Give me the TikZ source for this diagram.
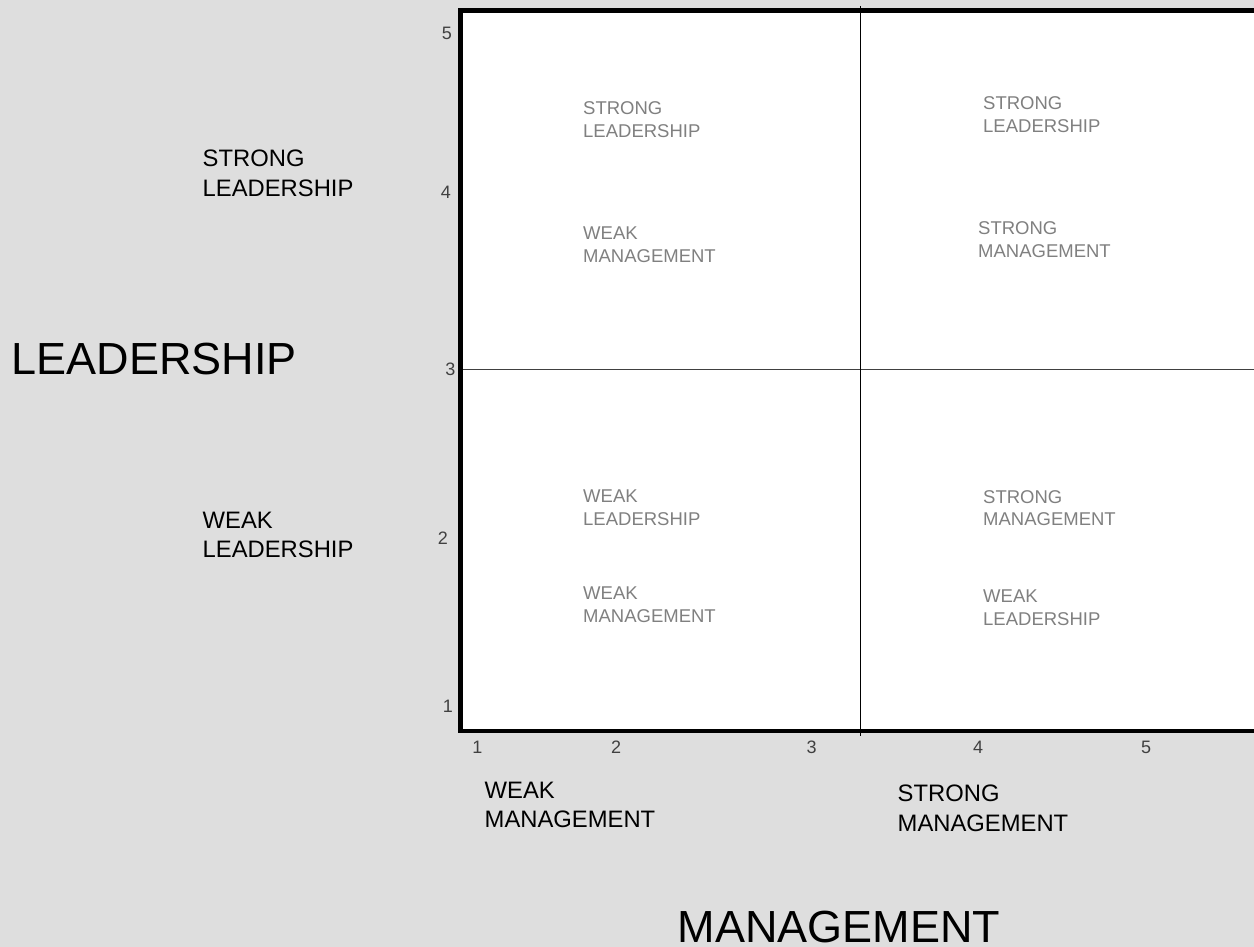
\documentclass[tikz,border=0pt]{standalone}
\usepackage{fontspec}
\setmainfont{Liberation Sans}
\definecolor{bg}{HTML}{DEDEDE}
\definecolor{qgray}{HTML}{808080}
\definecolor{tickgray}{HTML}{404040}
\begin{document}
\begin{tikzpicture}[x=1pt,y=-1pt,
  quad/.style={anchor=north west,inner sep=0pt,align=left,text=qgray,font=\fontsize{18.5}{22.5}\selectfont},
  side/.style={anchor=north west,inner sep=0pt,align=left,text=black,font=\fontsize{23.8}{29.3}\selectfont},
  big/.style={anchor=north west,inner sep=0pt,text=black,font=\fontsize{45}{54}\selectfont},
  tick/.style={anchor=center,inner sep=0pt,text=tickgray,font=\fontsize{18}{22}\selectfont},
  frame/.style={line width=4.8pt,line cap=rect},
  divider/.style={line width=1.3pt}]
\fill[bg] (0,0) rectangle (1254,947);
\useasboundingbox (0,0) rectangle (1254,947);
% plot area
\coordinate (tl) at (460.8,10.5);
\coordinate (tr) at (1256,10.5);
\coordinate (bl) at (460.8,731);
\coordinate (br) at (1256,731);
\fill[white] (tl) rectangle (br);
\coordinate (vtop) at (860.3,6);
\coordinate (vbot) at (860.3,736);
\coordinate (hleft) at (463,369.3);
\coordinate (hright) at (1256,369.3);
\draw[divider,tickgray] (hleft) -- (hright);
\draw[divider,black] (vtop) -- (vbot);
\draw[frame] (tr) -- (tl) -- (bl) -- (br);
% quadrant labels
\node[quad] (q1a) at (583,101.7) {STRONG\\LEADERSHIP};
\node[quad] (q1b) at (583,226.7) {WEAK\\MANAGEMENT};
\node[quad] (q2a) at (983,96.8) {STRONG\\LEADERSHIP};
\node[quad] (q2b) at (978,221.8) {STRONG\\MANAGEMENT};
\node[quad] (q3a) at (583,490) {WEAK\\LEADERSHIP};
\node[quad] (q3b) at (583,587) {WEAK\\MANAGEMENT};
\node[quad] (q4a) at (983,490) {STRONG\\MANAGEMENT};
\node[quad] (q4b) at (983,590) {WEAK\\LEADERSHIP};
% side labels
\node[side] (sl) at (202.5,150) {STRONG\\LEADERSHIP};
\node[side] (wl) at (202.5,512) {WEAK\\LEADERSHIP};
\node[side] (wm) at (484.5,782) {WEAK\\MANAGEMENT};
\node[side] (sm) at (897.5,785) {STRONG\\MANAGEMENT};
% axis titles
\node[big] (ylab) at (11.4,343.3) {LEADERSHIP};
\node[big] (xlab) at (677.4,911) {MANAGEMENT};
% y ticks
\node[tick] (y5) at (447,33.5) {5};
\node[tick] (y4) at (446,192) {4};
\node[tick] (y3) at (450.5,369.5) {3};
\node[tick] (y2) at (443,538) {2};
\node[tick] (y1) at (448,706.5) {1};
% x ticks
\node[tick] (x1) at (477.5,747.5) {1};
\node[tick] (x2) at (616,747.5) {2};
\node[tick] (x3) at (811.7,747) {3};
\node[tick] (x4) at (978,747) {4};
\node[tick] (x5) at (1146,747) {5};
\end{tikzpicture}
\end{document}
